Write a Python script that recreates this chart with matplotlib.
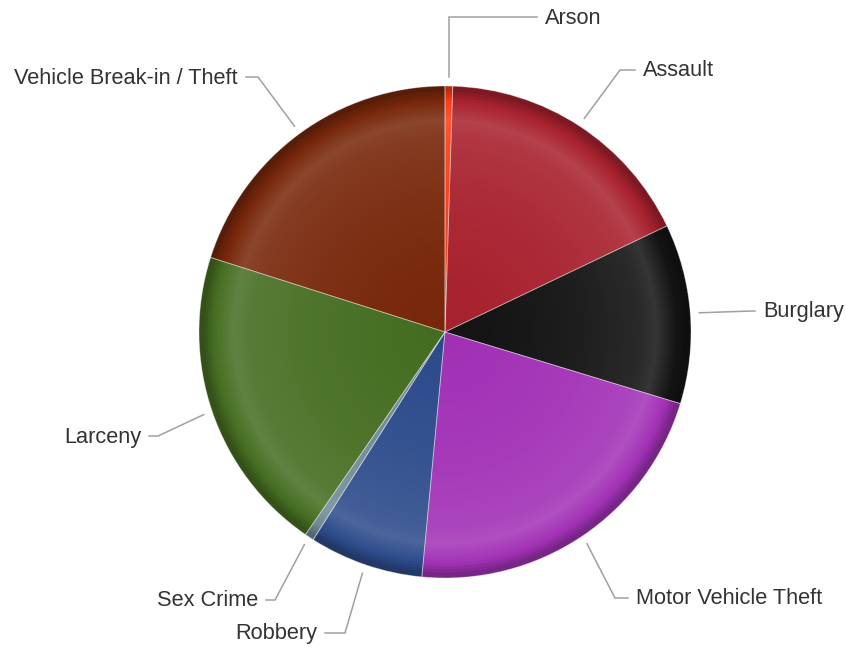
import numpy as np
import matplotlib.pyplot as plt
from matplotlib.colors import to_rgb

categories = ['Arson', 'Assault', 'Burglary', 'Motor Vehicle Theft', 'Robbery',
              'Sex Crime', 'Larceny', 'Vehicle Break-in / Theft']
counts = [5, 174, 118, 218, 75, 6, 203, 201]
colors = ['#FF3A12', '#A8222F', '#141414', '#A232B6', '#2E4C8C',
          '#6F8A96', '#466E22', '#78280B']

# label layout: (elbow x, elbow y, text x, text y, side) in pixels, y from top
label_pos = {
    'Arson': (449, 17, 545, 18, 'left'),
    'Assault': (620, 70, 643, 71, 'left'),
    'Burglary': (752, 311, 763, 312, 'left'),
    'Motor Vehicle Theft': (615, 598, 636, 599, 'left'),
    'Robbery': (345, 633, 317, 634, 'right'),
    'Sex Crime': (275, 600, 258, 601, 'right'),
    'Larceny': (158, 436, 141, 437, 'right'),
    'Vehicle Break-in / Theft': (258, 77, 238, 78, 'right'),
}

W, H = 846, 648
cx, cy = 445, H - 332
R = 246


def shade(c, t):
    c = np.array(to_rgb(c))
    if t >= 0:
        return tuple(c + (1 - c) * t)
    return tuple(c * (1 + t))


def profile(s):
    # lighter towards a bright band near the rim, then dark at the edge
    return float(np.interp(s, [0, 0.55, 0.8, 0.87, 0.95, 1.0],
                           [-0.02, 0.04, 0.09, 0.14, 0.0, -0.3]))


plt.rcParams['font.family'] = ['Liberation Sans', 'DejaVu Sans']
fig = plt.figure(figsize=(W / 100, H / 100), dpi=100)
ax = fig.add_axes([0, 0, 1, 1])

n = 80
dr = R / n
for i in range(n):
    r_out = R * (i + 1) / n
    s = (i + 0.5) / n
    t = profile(s)
    ax.pie(counts, radius=r_out, center=(cx, cy), startangle=90, counterclock=False,
           colors=[shade(c, t) for c in colors],
           wedgeprops=dict(width=min(dr * 1.8, r_out), linewidth=0, antialiased=True))

# thin slice borders
ax.pie(counts, radius=R, center=(cx, cy), startangle=90, counterclock=False,
       wedgeprops=dict(fill=False, edgecolor=(1, 1, 1, 0.4), linewidth=0.6))

# leader lines and labels
total = sum(counts)
start = 0.0
for name, v in zip(categories, counts):
    mid = start + v / total * 180.0
    start += v / total * 360.0
    a = np.radians(mid)
    ax_, ay_ = cx + (R + 9) * np.sin(a), cy + (R + 9) * np.cos(a)
    ex, ey, tx, ty, side = label_pos[name]
    ey, ty = H - ey, H - ty
    hx = tx - 8 if side == 'left' else tx + 8
    ax.plot([ax_, ex, hx], [ay_, ey, ey], color='#a0a0a0', lw=1.1,
            solid_joinstyle='miter')
    ax.text(tx, ty, name, ha=side, va='center', fontsize=15.7, color='#333333')

ax.set_xlim(0, W)
ax.set_ylim(0, H)
ax.set_aspect('equal')
ax.axis('off')

fig.savefig('out.png', dpi=100, facecolor='white')
